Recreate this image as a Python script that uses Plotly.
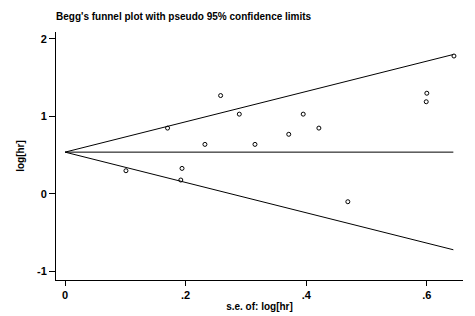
import plotly.graph_objects as go

# study data: standard error of log[hr] and log[hr]
se = [0.101, 0.170, 0.192, 0.194, 0.232, 0.258, 0.289, 0.315, 0.371, 0.395, 0.421, 0.469, 0.599, 0.600, 0.645]
loghr = [0.30, 0.85, 0.18, 0.33, 0.64, 1.27, 1.03, 0.64, 0.77, 1.03, 0.85, -0.10, 1.19, 1.30, 1.78]

# pooled estimate and pseudo 95% confidence limits (endpoints)
limit_se = [0.0, 0.644]
pooled = [0.54, 0.54]
upper = [0.54, 1.80]
lower = [0.54, -0.72]

xtick_vals = [0, 0.2, 0.4, 0.6]
xtick_text = ["0", ".2", ".4", ".6"]
ytick_vals = [-1, 0, 1, 2]
ytick_text = ["-1", "0", "1", "2"]

line_style = dict(color="black", width=1)
fig = go.Figure()
fig.add_trace(go.Scatter(x=limit_se, y=upper, mode="lines", line=line_style, hoverinfo="skip"))
fig.add_trace(go.Scatter(x=limit_se, y=lower, mode="lines", line=line_style, hoverinfo="skip"))
fig.add_trace(go.Scatter(x=limit_se, y=pooled, mode="lines", line=line_style, hoverinfo="skip"))
fig.add_trace(go.Scatter(x=se, y=loghr, mode="markers",
                         marker=dict(symbol="circle-open", size=4, color="black", line=dict(width=1))))

# the page body has an 8px margin, so the figure is sized to fill the rest of the window
W, H = 467, 308
font_fam = "Liberation Sans, Arial, sans-serif"
fig.update_layout(
    width=W, height=H,
    margin=dict(l=48, r=12, t=24, b=36),
    paper_bgcolor="white", plot_bgcolor="white",
    showlegend=False,
    font=dict(family=font_fam, color="black", size=11),
    title=dict(text="<b>Begg's funnel plot with pseudo 95% confidence limits</b>",
               font=dict(size=10, family=font_fam, color="black"),
               xref="container", x=48/W, xanchor="left",
               yref="container", y=1-8/H, yanchor="middle"),
)
fig.update_xaxes(range=[-0.015, 0.66], showline=True, linecolor="black", linewidth=1,
                 automargin=False,
                 showgrid=False, zeroline=False, ticks="outside", ticklen=5, tickcolor="black",
                 tickvals=xtick_vals, ticktext=["<b>%s</b>" % t for t in xtick_text],
                 tickfont=dict(size=11),
                 title=dict(text="<b>s.e. of: log[hr]</b>", font=dict(size=10), standoff=2))
fig.update_yaxes(range=[-1.11, 2.09], showline=True, linecolor="black", linewidth=1,
                 automargin=False,
                 showgrid=False, zeroline=False, ticks="outside", ticklen=6, tickcolor="black",
                 tickvals=ytick_vals, ticktext=["<b>%s</b>" % t for t in ytick_text],
                 tickfont=dict(size=11),
                 title=dict(text="<b>log[hr]</b>", font=dict(size=10), standoff=10))

fig.write_html("out.html")
